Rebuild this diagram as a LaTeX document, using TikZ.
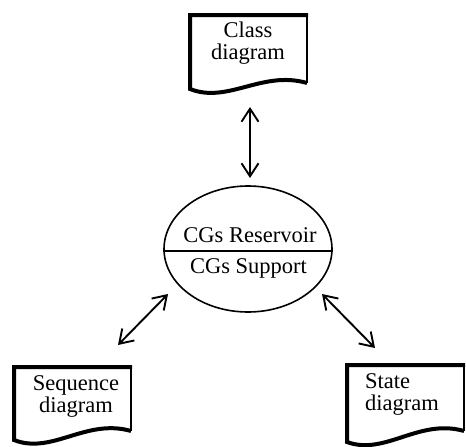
\documentclass[tikz,border=0pt]{standalone}
\usepackage{fontspec}
\setmainfont{Liberation Serif}
\usetikzlibrary{arrows.meta,shapes.geometric,calc}
\begin{document}
\begin{tikzpicture}[x=1pt,y=-1pt,
  lbl/.style={font=\fontsize{22.5}{22}\selectfont, inner sep=0pt},
  conn/.style={line width=1.9pt, {Straight Barb[length=13pt,width=17pt]}-{Straight Barb[length=13pt,width=17pt]}},
  docedge/.style={line width=4pt, line join=miter},
  docside/.style={line width=2pt},
  resbox/.style={draw, ellipse, line width=1.6pt, inner sep=0pt, minimum width=168pt, minimum height=126pt}
]
\useasboundingbox (0,0) rectangle (466,447);

% Class diagram document
\draw[docside] (307,15) -- (307,83);
\draw[docedge] (307,83) .. controls (262,70) and (228,104) .. (190,89) -- (190,15) -- (308,15);
\node[lbl, align=center] (cls) at (248,43) {Class\\diagram};

% Sequence diagram document
\draw[docside] (131,367) -- (131,431);
\draw[docedge] (131,431) .. controls (86,418) and (52,455) .. (14,440) -- (14,367) -- (132,367);
\node[lbl, align=center] (seq) at (76,396) {Sequence\\diagram};

% State diagram document
\draw[docside] (464,365) -- (464,431);
\draw[docedge] (464,431) .. controls (419,418) and (385,456) .. (347,442) -- (347,365) -- (465,365);
\node[lbl, align=left, anchor=west] (st) at (365,394) {State\\diagram};

% CGs ellipse
\node[resbox] (res) at (248,249) {};
\draw[line width=1.6pt] ($(res.west)+(0,2)$) -- ($(res.east)+(0,2)$);
\node[lbl, anchor=base] (resv) at (250,242) {CGs Reservoir};
\node[lbl, anchor=base] (supp) at (248.5,273) {CGs Support};

% connectors
\coordinate (c1) at (250,107);
\coordinate (c2) at (250,178);
\coordinate (s1) at (118,345);
\coordinate (s2) at (168,294);
\coordinate (t1) at (322,294);
\coordinate (t2) at (375,348);
\draw[conn] (c1) -- (c2);
\draw[conn] (s1) -- (s2);
\draw[conn] (t1) -- (t2);
\end{tikzpicture}
\end{document}
